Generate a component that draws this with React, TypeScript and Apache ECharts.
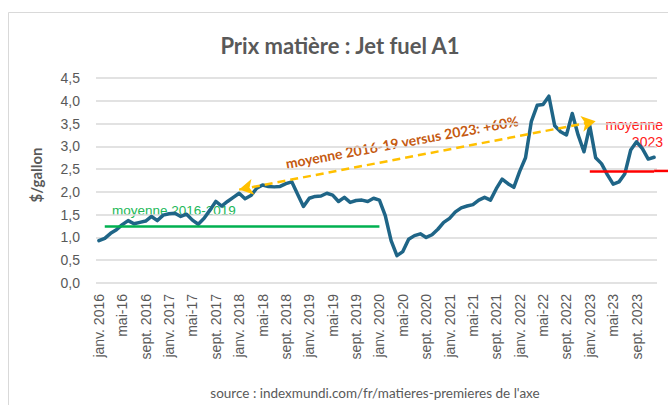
import React, { useEffect, useRef } from "react";
import * as echarts from "echarts";

const years = [2016, 2017, 2018, 2019, 2020, 2021, 2022, 2023];
const monthNames = ["janv.", "févr.", "mars", "avr.", "mai", "juin", "juil.", "août", "sept.", "oct.", "nov.", "déc."];
const categories: string[] = [];
years.forEach((y) => {
  monthNames.forEach((m, i) => {
    categories.push(i === 4 ? `mai-${String(y).slice(2)}` : `${m} ${y}`);
  });
});

const jetFuel = [
  // 2016
  0.93, 0.98, 1.09, 1.17, 1.28, 1.37, 1.30, 1.33, 1.36, 1.46, 1.37, 1.49,
  // 2017
  1.52, 1.53, 1.46, 1.51, 1.38, 1.29, 1.42, 1.60, 1.79, 1.69, 1.79, 1.88,
  // 2018
  1.97, 1.85, 1.92, 2.08, 2.15, 2.12, 2.11, 2.12, 2.18, 2.22, 1.95, 1.68,
  // 2019
  1.86, 1.90, 1.91, 1.97, 1.93, 1.79, 1.88, 1.77, 1.81, 1.82, 1.79, 1.86,
  // 2020
  1.82, 1.48, 0.93, 0.60, 0.69, 0.96, 1.04, 1.08, 1.00, 1.06, 1.18, 1.33,
  // 2021
  1.42, 1.56, 1.65, 1.69, 1.72, 1.82, 1.88, 1.82, 2.07, 2.28, 2.18, 2.10,
  // 2022
  2.45, 2.75, 3.55, 3.90, 3.92, 4.10, 3.45, 3.32, 3.25, 3.72, 3.25, 2.88,
  // 2023
  3.45, 2.75, 2.62, 2.38, 2.17, 2.22, 2.40, 2.92, 3.10, 2.95, 2.72, 2.76,
];

const avg2016to2019 = 1.25;
const avg2023 = 2.46;
const avgLineStart = 1;
const avgLineEnd = 48;
const avg2023Start = 84;
const avg2023End = 95;
const arrowFrom = [24, 2.05];
const arrowTo = [85, 3.55];

const GRAY = "#595959";

export default function App() {
  const ref = useRef<HTMLDivElement>(null);
  useEffect(() => {
    if (!ref.current) return;
    const chart = echarts.init(ref.current, undefined, { renderer: "svg" });
    chart.setOption({
      animation: false,
      backgroundColor: "#ffffff",
      grid: { left: 96, right: 11, top: 78, bottom: 122, containLabel: false },
      xAxis: {
        type: "category",
        data: categories,
        boundaryGap: true,
        axisLine: { show: false },
        axisTick: { show: false },
        axisLabel: {
          interval: 3,
          rotate: 90,
          margin: 11,
          color: GRAY,
          fontSize: 14,
          fontFamily: "Liberation Sans, Arial, sans-serif",
        },
      },
      yAxis: {
        type: "value",
        min: 0,
        max: 4.5,
        interval: 0.5,
        axisLine: { show: false },
        axisTick: { show: false },
        axisLabel: {
          margin: 16,
          color: GRAY,
          fontSize: 14,
          fontFamily: "Liberation Sans, Arial, sans-serif",
          formatter: (v: number) => v.toFixed(1).replace(".", ","),
        },
        splitLine: { lineStyle: { color: "#d9d9d9", width: 1.5 } },
      },
      series: [
        {
          type: "line",
          data: jetFuel,
          symbol: "none",
          lineStyle: { color: "#1f6587", width: 3.5, cap: "round", join: "round" },
          z: 3,
          markLine: {
            silent: true,
            animation: false,
            label: { show: false },
            symbol: "none",
            data: [
              [
                { coord: [avgLineStart, avg2016to2019], lineStyle: { color: "#00b050", width: 2.5, type: "solid" } },
                { coord: [avgLineEnd, avg2016to2019] },
              ],
              [
                { coord: [avg2023Start, avg2023], lineStyle: { color: "#ff0000", width: 2.5, type: "solid" } },
                { coord: [avg2023End, avg2023] },
              ],
              [
                {
                  coord: arrowFrom,
                  symbol: "arrow",
                  symbolSize: [12, 14],
                  lineStyle: { color: "#ffc000", width: 2.5, type: [8, 5] },
                },
                { coord: arrowTo, symbol: "arrow", symbolSize: [12, 14] },
              ],
            ],
          },
        },
      ],
      graphic: [
        {
          type: "rect",
          shape: { x: 8.5, y: 12.5, width: 720, height: 440 },
          style: { fill: "none", stroke: "#d9d9d9", lineWidth: 1 },
          silent: true,
          z: -1,
        },
        {
          type: "text",
          x: 340,
          y: 45,
          style: {
            text: "Prix matière : Jet fuel A1",
            fill: GRAY,
            font: "bold 22px Lato, 'Open Sans', sans-serif",
            align: "center",
            verticalAlign: "middle",
          },
        },
        {
          type: "text",
          x: 36,
          y: 175,
          rotation: Math.PI / 2,
          style: {
            text: "$/gallon",
            fill: GRAY,
            font: "bold 15px Lato, 'Open Sans', sans-serif",
            align: "center",
            verticalAlign: "middle",
          },
        },
        {
          type: "text",
          x: 112,
          y: 210,
          style: {
            text: "moyenne 2016-2019",
            fill: "#22b858",
            font: "13.5px 'Liberation Sans', Arial, sans-serif",
            align: "left",
            verticalAlign: "middle",
          },
        },
        {
          type: "text",
          x: 663,
          y: 125,
          style: {
            text: "moyenne",
            fill: "#ff2020",
            font: "14px 'Liberation Sans', Arial, sans-serif",
            align: "right",
            verticalAlign: "middle",
          },
        },
        {
          type: "text",
          x: 663,
          y: 142,
          style: {
            text: "2023",
            fill: "#ff2020",
            font: "14px 'Liberation Sans', Arial, sans-serif",
            align: "right",
            verticalAlign: "middle",
          },
        },
        {
          type: "text",
          x: 402,
          y: 142,
          rotation: (10.5 * Math.PI) / 180,
          style: {
            text: "moyenne 2016-19 versus 2023: +60%",
            fill: "#c55a11",
            font: "bold 14px Lato, 'Open Sans', sans-serif",
            align: "center",
            verticalAlign: "middle",
          },
        },
        {
          type: "text",
          x: 375,
          y: 393,
          style: {
            text: "source : indexmundi.com/fr/matieres-premieres de l'axe",
            fill: GRAY,
            font: "13.5px Lato, 'Open Sans', sans-serif",
            align: "center",
            verticalAlign: "middle",
          },
        },
      ],
    });
    // extend the 2023 average line past the plot edge, as in the original
    const p = chart.convertToPixel({ seriesIndex: 0 }, [avg2023End, avg2023]) as number[];
    if (p && isFinite(p[0]) && isFinite(p[1])) {
      chart.setOption({
        graphic: [
          {
            id: "avg2023Ext",
            type: "line",
            shape: { x1: p[0], y1: p[1], x2: 668, y2: p[1] },
            style: { stroke: "#ff0000", lineWidth: 2.5 },
            silent: true,
            z: 10,
          },
        ],
      });
    }
    return () => chart.dispose();
  }, []);
  return (
    <div
      ref={ref}
      style={{ position: "absolute", left: 0, top: 0, width: 668, height: 405 }}
    />
  );
}
